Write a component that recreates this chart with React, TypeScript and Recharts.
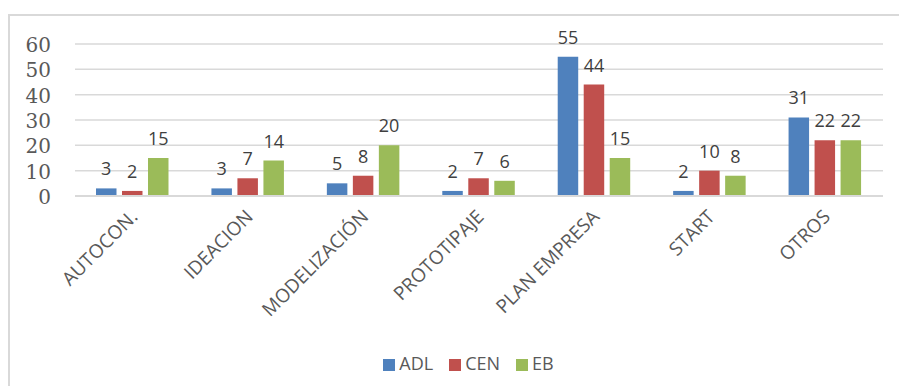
import { BarChart, Bar, XAxis, YAxis, CartesianGrid, Legend, LabelList } from "recharts";

const categories = ["AUTOCON.", "IDEACION", "MODELIZACIÓN", "PROTOTIPAJE", "PLAN EMPRESA", "START", "OTROS"];
const adl = [3, 3, 5, 2, 55, 2, 31];
const cen = [2, 7, 8, 7, 44, 10, 22];
const eb = [15, 14, 20, 6, 15, 8, 22];
const yTicks = [0, 10, 20, 30, 40, 50, 60];

const data = categories.map((name, i) => ({ name, ADL: adl[i], CEN: cen[i], EB: eb[i] }));

const SANS = "'Open Sans', 'Noto Sans', sans-serif";
const SERIF = "'DejaVu Serif', serif";

const renderCategoryTick = (props: any) => {
  const { x, y, payload } = props;
  return (
    <g transform={`translate(${x + 6}, ${y + 14})`}>
      <text
        x={0}
        y={0}
        textAnchor="end"
        fill="#595959"
        fontSize={19}
        fontFamily={SANS}
        transform="rotate(-45)"
      >
        {payload.value}
      </text>
    </g>
  );
};

const renderValueTick = (props: any) => {
  const { x, y, payload } = props;
  return (
    <text x={x} y={y} dy="0.4em" textAnchor="end" fill="#595959" fontSize={20} fontFamily={SERIF}>
      {payload.value}
    </text>
  );
};

export default function App() {
  return (
    <div
      style={{
        position: "absolute",
        left: 8,
        top: 14,
        width: 889,
        height: 370,
        borderTop: "2px solid #d9d9d9",
        borderLeft: "2px solid #d9d9d9",
        background: "#fff",
      }}
    >
      <BarChart
        width={889}
        height={370}
        data={data}
        margin={{ top: 28, right: 16, left: 0, bottom: 0 }}
        barGap={5.5}
        barSize={20.5}
      >
        <CartesianGrid vertical={false} stroke="#d9d9d9" strokeWidth={1.5} />
        <XAxis
          dataKey="name"
          interval={0}
          tickLine={false}
          axisLine={{ stroke: "#d9d9d9", strokeWidth: 2 }}
          height={166}
          tick={renderCategoryTick}
        />
        <YAxis
          width={65}
          domain={[0, 60]}
          ticks={yTicks}
          interval={0}
          tickLine={false}
          axisLine={false}
          tickSize={0}
          tickMargin={24}
          tick={renderValueTick}
        />
        <Legend
          verticalAlign="bottom"
          align="center"
          iconType="square"
          iconSize={12}
          wrapperStyle={{ top: 335, paddingLeft: 30, fontFamily: SANS, fontSize: 18 }}
          formatter={(value: string) => <span style={{ color: "#595959", marginRight: 6 }}>{value}</span>}
        />
        <Bar dataKey="ADL" fill="#4F81BD" isAnimationActive={false}>
          <LabelList dataKey="ADL" position="top" offset={13} fill="#404040" fontSize={18} fontFamily={SANS} />
        </Bar>
        <Bar dataKey="CEN" fill="#C0504D" isAnimationActive={false}>
          <LabelList dataKey="CEN" position="top" offset={13} fill="#404040" fontSize={18} fontFamily={SANS} />
        </Bar>
        <Bar dataKey="EB" fill="#9BBB59" isAnimationActive={false}>
          <LabelList dataKey="EB" position="top" offset={13} fill="#404040" fontSize={18} fontFamily={SANS} />
        </Bar>
      </BarChart>
    </div>
  );
}
